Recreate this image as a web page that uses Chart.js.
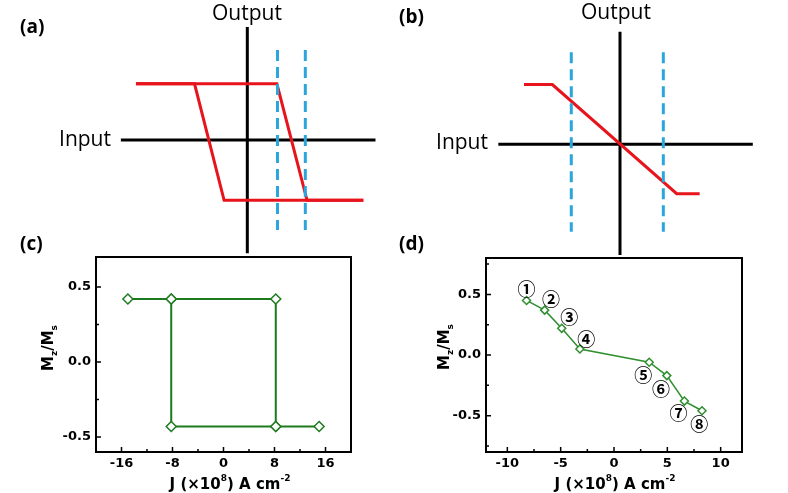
<!DOCTYPE html>
<html>
<head>
<meta charset="utf-8">
<script src="https://cdn.jsdelivr.net/npm/chart.js@4.4.1/dist/chart.umd.min.js"></script>
<style>
  html, body { margin: 0; padding: 0; background: #fff; }
  #fig { position: relative; width: 788px; height: 493px; overflow: hidden; font-family: "Open Sans", sans-serif; }
  #fig canvas { position: absolute; }
  .txt { position: absolute; white-space: nowrap; color: #000; }
  .big { font-size: 21px; line-height: 21px; }
  .tag { font-size: 19px; line-height: 19px; font-weight: bold; }
  .axt { font-family: "DejaVu Sans", sans-serif; font-weight: bold; font-size: 15px; line-height: 15px; }
  .axt .up { font-size: 9px; position: relative; top: -8px; }
  .axt .dn { font-size: 9px; position: relative; top: 4px; }
  .mid { transform: translateX(-50%); }
  .rot { transform: translate(-50%, -50%) rotate(-90deg); }
</style>
</head>
<body>
<div id="fig">
  <canvas id="panel-a" width="394" height="258" style="left:0;top:0"></canvas>
  <canvas id="panel-b" width="394" height="258" style="left:394px;top:0"></canvas>
  <canvas id="panel-c" width="394" height="253" style="left:0;top:240px"></canvas>
  <canvas id="panel-d" width="394" height="253" style="left:394px;top:240px"></canvas>

  <div class="txt big mid" style="left:247px;top:2px">Output</div>
  <div class="txt big mid" style="left:616px;top:1px">Output</div>
  <div class="txt big" style="right:677px;top:128px">Input</div>
  <div class="txt big" style="right:300px;top:131px">Input</div>
  <div class="txt tag" style="left:20px;top:17px">(a)</div>
  <div class="txt tag" style="left:399px;top:7px">(b)</div>
  <div class="txt tag" style="left:20px;top:234px">(c)</div>
  <div class="txt tag" style="left:399px;top:234px">(d)</div>

  <div class="txt axt rot" style="left:49px;top:348px">M<span class="dn">z</span>/M<span class="dn">s</span></div>
  <div class="txt axt rot" style="left:445px;top:347px">M<span class="dn">z</span>/M<span class="dn">s</span></div>
  <div class="txt axt mid" style="left:230px;top:477px">J (×10<span class="up">8</span>) A cm<span class="up">-2</span></div>
  <div class="txt axt mid" style="left:615px;top:477px">J (×10<span class="up">8</span>) A cm<span class="up">-2</span></div>
</div>

<script>
/* ---------- (a) schematic: hysteretic response ---------- */
const aSweepIn   = [-1.92, 0.51, 1.03, 2.0];
const aSweepOut  = [0.97, 0.97, -1.04, -1.04];
const aReturnIn  = [2.0, -0.4, -0.91, -1.92];
const aReturnOut = [-1.04, -1.04, 0.97, 0.97];
const aGuides    = [0.52, 1.0];
const aGuideOut  = [1.55, -1.55];
const aAxisIn    = [-2.18, 2.21];
const aAxisOut   = [1.95, -1.95];
const aInRange   = [-4.264, 2.529];
const aOutRange  = [-2.034, 2.414];

/* ---------- (b) schematic: linear response ---------- */
const bCurveIn   = [-1.655, -1.167, 0.978, 1.374];
const bCurveOut  = [1.03, 1.03, -0.852, -0.852];
const bGuides    = [-0.84, 0.747];
const bGuideOut  = [1.586, -1.507];
const bAxisIn    = [-2.098, 2.29];
const bAxisOut   = [1.94, -1.91];
const bInRange   = [-3.897, 2.897];
const bOutRange  = [-1.96, 2.488];

/* ---------- (c) Mz/Ms vs J, square loop ---------- */
const cSweepJ  = [-15, -8.2, 8.2, 8.2, 15];
const cSweepM  = [0.42, 0.42, 0.42, -0.43, -0.43];
const cReturnJ = [8.2, -8.2, -8.2];
const cReturnM = [-0.43, -0.43, 0.42];
const cJRange  = [-20, 20];
const cMRange  = [-0.6, 0.7];

/* ---------- (d) Mz/Ms vs J, multilevel ---------- */
const dJ = [-8.2, -6.5, -4.9, -3.2, 3.3, 4.95, 6.6, 8.25];
const dM = [0.45, 0.37, 0.22, 0.05, -0.06, -0.17, -0.38, -0.46];
const dLabelJ = [-8.2, -5.9, -4.2, -2.6, 2.75, 4.4, 6.05, 8.0];
const dLabelM = [0.54, 0.46, 0.31, 0.13, -0.17, -0.28, -0.48, -0.57];
const dLabels = ['①', '②', '③', '④', '⑤', '⑥', '⑦', '⑧'];
const dJRange = [-12, 12];
const dMRange = [-0.8, 0.8];

const RED = '#e8141c';
const BLUE = '#2aa6dc';
const GREEN_C = '#1d7a1d';
const GREEN_D = '#2f8f2f';

const pts = (xs, ys) => xs.map((x, i) => ({ x, y: ys[i] }));

Chart.defaults.font.family = 'DejaVu Sans';
Chart.defaults.color = '#000';

/* ---------- SCHEMATICS ---------- */
function line(data, color, order, dash) {
  return {
    data, showLine: true, borderColor: color, borderWidth: 3,
    pointRadius: 0, borderDash: dash || [], order, fill: false
  };
}

function schematic(id, datasets, inRange, outRange) {
  return new Chart(document.getElementById(id), {
    type: 'scatter',
    data: { datasets },
    options: {
      responsive: false, animation: false, events: [],
      layout: { padding: 0 },
      plugins: { legend: { display: false }, tooltip: { enabled: false } },
      scales: {
        x: { type: 'linear', display: false, min: inRange[0], max: inRange[1] },
        y: { type: 'linear', display: false, min: outRange[0], max: outRange[1] }
      }
    }
  });
}

schematic('panel-a', [
  line(pts(aAxisIn, [0, 0]), '#000', 3),
  line(pts([0, 0], aAxisOut), '#000', 3),
  line(pts(aSweepIn, aSweepOut), RED, 2),
  line(pts(aReturnIn, aReturnOut), RED, 2),
  ...aGuides.map(g => line(pts([g, g], aGuideOut), BLUE, 1, [11, 6]))
], aInRange, aOutRange);

schematic('panel-b', [
  line(pts(bAxisIn, [0, 0]), '#000', 3),
  line(pts([0, 0], bAxisOut), '#000', 3),
  line(pts(bCurveIn, bCurveOut), RED, 2),
  ...bGuides.map(g => line(pts([g, g], bGuideOut), BLUE, 1, [11, 6]))
], bInRange, bOutRange);

/* ---------- FRAME + INSIDE TICKS ---------- */
const isMultiple = (v, step) => Math.abs(v / step - Math.round(v / step)) < 1e-6;

const frameTicks = {
  id: 'frameTicks',
  afterDatasetsDraw(chart, args, opts) {
    const { ctx, chartArea: a, scales: { x, y } } = chart;
    ctx.save();
    ctx.strokeStyle = '#000';
    ctx.lineWidth = 1.5;
    ctx.beginPath();
    x.ticks.forEach(t => {
      if (t.value <= x.min || t.value >= x.max) return;
      const px = x.getPixelForValue(t.value);
      const len = isMultiple(t.value, opts.xMajor) ? 5 : 3;
      ctx.moveTo(px, a.bottom);
      ctx.lineTo(px, a.bottom - len);
    });
    y.ticks.forEach(t => {
      if (t.value <= y.min || t.value >= y.max) return;
      const py = y.getPixelForValue(t.value);
      const len = isMultiple(t.value, opts.yMajor) ? 5 : 3;
      ctx.moveTo(a.left, py);
      ctx.lineTo(a.left + len, py);
    });
    ctx.stroke();
    ctx.lineWidth = 2;
    ctx.strokeRect(a.left, a.top, a.right - a.left, a.bottom - a.top);
    ctx.restore();
  }
};

const stepLabels = {
  id: 'stepLabels',
  afterDatasetsDraw(chart, args, opts) {
    if (!opts.texts) return;
    const { ctx, scales: { x, y } } = chart;
    ctx.save();
    ctx.fillStyle = '#000';
    ctx.font = 'bold 18px "Noto Sans CJK SC", "DejaVu Sans"';
    ctx.textAlign = 'center';
    ctx.textBaseline = 'middle';
    opts.texts.forEach((s, i) => {
      ctx.fillText(s, x.getPixelForValue(opts.xs[i]), y.getPixelForValue(opts.ys[i]));
    });
    ctx.restore();
  }
};

function dataPanel(id, datasets, cfg) {
  const tickFont = { family: 'DejaVu Sans', weight: 'bold', size: 13 };
  return new Chart(document.getElementById(id), {
    type: 'scatter',
    data: { datasets },
    options: {
      responsive: false, animation: false, events: [],
      layout: { padding: { left: 0, right: cfg.padRight, top: cfg.padTop, bottom: 0 } },
      plugins: {
        legend: { display: false }, tooltip: { enabled: false },
        frameTicks: { xMajor: cfg.xMajor, yMajor: cfg.yMajor },
        stepLabels: cfg.labels || {}
      },
      scales: {
        x: {
          type: 'linear', min: cfg.xRange[0], max: cfg.xRange[1],
          grid: { display: false, drawTicks: false, tickLength: 0 }, border: { display: false },
          ticks: {
            stepSize: cfg.xStep, includeBounds: false, autoSkip: false,
            maxRotation: 0, padding: 4, font: tickFont, color: '#000',
            callback: v => isMultiple(v, cfg.xMajor) ? String(Math.round(v)) : ''
          },
          afterFit: s => { s.height = 41; }
        },
        y: {
          type: 'linear', min: cfg.yRange[0], max: cfg.yRange[1],
          grid: { display: false, drawTicks: false, tickLength: 0 }, border: { display: false },
          ticks: {
            stepSize: cfg.yStep, includeBounds: false, autoSkip: false,
            padding: 5, font: tickFont, color: '#000',
            callback: v => isMultiple(v, cfg.yMajor) ? (Math.abs(v) < 1e-9 ? '0.0' : v.toFixed(1)) : ''
          },
          afterFit: s => { s.width = cfg.yWidth; }
        }
      }
    },
    plugins: [frameTicks, stepLabels]
  });
}

function greenSeries(data, color, width, radius) {
  return {
    data, showLine: true, borderColor: color, borderWidth: width,
    pointStyle: 'rectRot', pointRadius: radius, pointBorderWidth: 1.5,
    pointBorderColor: color, pointBackgroundColor: '#fff', fill: false
  };
}

dataPanel('panel-c', [
  greenSeries(pts(cSweepJ, cSweepM), GREEN_C, 2, 5),
  greenSeries(pts(cReturnJ, cReturnM), GREEN_C, 2, 5)
], {
  xRange: cJRange, yRange: cMRange, xStep: 4, yStep: 0.25,
  xMajor: 8, yMajor: 0.5, yWidth: 96, padRight: 43, padTop: 17
});

dataPanel('panel-d', [
  greenSeries(pts(dJ, dM), GREEN_D, 1.5, 4)
], {
  xRange: dJRange, yRange: dMRange, xStep: 2.5, yStep: 0.25,
  xMajor: 5, yMajor: 0.5, yWidth: 92, padRight: 46, padTop: 18,
  labels: { xs: dLabelJ, ys: dLabelM, texts: dLabels }
});
</script>
</body>
</html>
